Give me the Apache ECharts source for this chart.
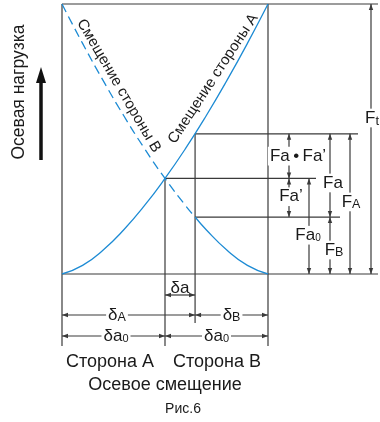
<!DOCTYPE html>
<html><head><meta charset="utf-8">
<script src="https://cdn.jsdelivr.net/npm/echarts@6/dist/echarts.min.js"></script>
<style>html,body{margin:0;padding:0;background:#fff}#c{width:380px;height:422px}</style>
</head><body><div id="c"></div>
<script>
// ---- Data (displacement % of stroke, axial load % of Ft) ----
const dispA = [0, 10, 20, 30, 40, 50, 60, 70, 80, 90, 100];
const loadA = [0, 3.2, 8.9, 16.4, 25.3, 35.4, 46.5, 58.6, 71.6, 85.4, 100];
const dispBDashed = [0, 10, 20, 30, 40, 50, 60, 64.6];
const loadBDashed = [100, 85.4, 71.6, 58.6, 46.5, 35.4, 25.3, 21.1];
const dispBSolid = [64.6, 70, 80, 90, 100];
const loadBSolid = [21.1, 16.4, 8.9, 3.2, 0];
const preloadDisp = 50;    // δa0 point (intersection)
const loadedDisp = 64.6;   // δA
const Fa0 = 35.4;
const FA = 51.9;
const FB = 21.1;
const Ft = 100;

const FONT = '"Liberation Sans", Arial, Helvetica, sans-serif';
const LINE = '#3a3a3a';
const TXT = '#1a1a1a';
const BLUE = '#1d8bd4';

const ctx = document.createElement('canvas').getContext('2d');
function tw(t, s) { ctx.font = s + 'px ' + FONT; return ctx.measureText(t).width; }

function seg(a, b, c, d, w) {
  return { type: 'line', shape: { x1: a, y1: b, x2: c, y2: d }, style: { stroke: LINE, lineWidth: w || 1.2 } };
}
function head(x, y, dir) {
  const L = 6, H = 2.2; let p;
  if (dir === 'up') p = [[x, y], [x - H, y + L], [x + H, y + L]];
  else if (dir === 'down') p = [[x, y], [x - H, y - L], [x + H, y - L]];
  else if (dir === 'left') p = [[x, y], [x + L, y - H], [x + L, y + H]];
  else p = [[x, y], [x - L, y - H], [x - L, y + H]];
  return { type: 'polygon', shape: { points: p }, style: { fill: LINE } };
}
function vdim(x, ya, yb) { return [seg(x, ya, x, yb), head(x, ya, 'up'), head(x, yb, 'down')]; }
function hdim(y, xa, xb) { return [seg(xa, y, xb, y), head(xa, y, 'left'), head(xb, y, 'right')]; }
function label(cx, cy, parts, bg) {
  let total = 0;
  parts.forEach(p => { p.w = tw(p.t, p.s); total += p.w; });
  const main = parts[0].s;
  const els = [];
  if (bg) els.push({ type: 'rect', shape: { x: cx - total / 2 - 2, y: cy - main * 0.55, width: total + 4, height: main * 1.1 }, style: { fill: '#fff' } });
  let x = cx - total / 2;
  parts.forEach(p => {
    const y = cy + 0.33 * (main - p.s) + (p.dy || 0);
    els.push({ type: 'text', x: x, y: y, style: { text: p.t, font: p.s + 'px ' + FONT, fill: TXT, align: 'left', verticalAlign: 'middle' } });
    x += p.w;
  });
  return els;
}
function rtext(cx, cy, t, s, rot) {
  return { type: 'text', x: cx, y: cy, rotation: rot, style: { text: t, font: s + 'px ' + FONT, fill: TXT, align: 'center', verticalAlign: 'middle' } };
}

function renderAnn(params, api) {
  const P = (x, y) => api.coord([x, y]);
  const [x0, yb] = P(0, 0);
  const [x1, yt] = P(100, Ft);
  const xm = P(preloadDisp, 0)[0];
  const xd = P(loadedDisp, 0)[0];
  const yFa0 = P(0, Fa0)[1], yFA = P(0, FA)[1], yFB = P(0, FB)[1];
  const c1 = x1 + 21, c2 = x1 + 41, c3 = x1 + 62, c4 = x1 + 82, c5 = x1 + 103;
  let el = [];
  // frame & reference lines
  el.push(seg(x0, yt, x1 + 110, yt), seg(x0, yb, x1 + 110, yb));
  el.push(seg(x0, yt, x0, yb + 72), seg(x1, yt, x1, yb + 72));
  el.push(seg(xd, yFA, x1 + 90, yFA), seg(xm, yFa0, x1 + 48, yFa0), seg(xd, yFB, x1 + 72, yFB));
  el.push(seg(xm, yFa0, xm, yb + 72), seg(xd, yFA, xd, yb + 49));
  // right dimensions
  el = el.concat(vdim(c1, yFA, yFa0), vdim(c1, yFa0, yFB), vdim(c2, yFa0, yb),
    vdim(c3, yFA, yFB), vdim(c3, yFB, yb), vdim(c4, yFA, yb), vdim(c5, yt, yb));
  el = el.concat(
    label(c1 + 9, (yFA + yFa0) / 2, [{ t: 'Fa\u2009•\u2009Fa’', s: 17 }], true),
    label(c1 + 2, (yFa0 + yFB) / 2 - 1, [{ t: 'Fa’', s: 17 }], true),
    label(c2 - 1, (yFa0 + yb) / 2 + 9, [{ t: 'Fa', s: 17 }, { t: '0', s: 10, dy: 1 }], true),
    label(c3 + 3, (yFA + yFB) / 2 + 7.5, [{ t: 'Fa', s: 17 }], true),
    label(c3 + 4, (yFB + yb) / 2 + 4.5, [{ t: 'F', s: 17 }, { t: 'B', s: 12.5, dy: 1 }], true),
    label(c4 + 1, (yFA + yb) / 2 - 2, [{ t: 'F', s: 17 }, { t: 'A', s: 12.5, dy: 1 }], true),
    label(c5 + 1, (yt + yb) / 2 - 21, [{ t: 'F', s: 17 }, { t: 't', s: 13, dy: 2 }], true)
  );
  // bottom dimensions
  const r1 = yb + 21, r2 = yb + 41, r3 = yb + 62;
  el = el.concat(hdim(r1, xm, xd), hdim(r2, x0, xd), hdim(r2, xd, x1), hdim(r3, x0, xm), hdim(r3, xm, x1));
  el = el.concat(
    label((xm + xd) / 2, r1 - 7, [{ t: 'δa', s: 17 }], false),
    label(x0 + 55, r2, [{ t: 'δ', s: 17 }, { t: 'A', s: 12.5, dy: 1 }], true),
    label((xd + x1) / 2, r2, [{ t: 'δ', s: 17 }, { t: 'B', s: 12.5, dy: 1 }], true),
    label(x0 + 54, r3, [{ t: 'δa', s: 17 }, { t: '0', s: 11, dy: 1 }], true),
    label((xm + x1) / 2, r3, [{ t: 'δa', s: 17 }, { t: '0', s: 11, dy: 1 }], true)
  );
  // axis captions
  el = el.concat(
    label(xm - 55, yb + 88, [{ t: 'Сторона А', s: 18 }], false),
    label(xm + 52, yb + 88, [{ t: 'Сторона В', s: 18 }], false),
    label(xm, yb + 111, [{ t: 'Осевое смещение', s: 18 }], false),
    label(xm + 18, yb + 135, [{ t: 'Рис.6', s: 14 }], false)
  );
  el.push(rtext(x0 - 43, (yt + yb) / 2 - 47, 'Осевая нагрузка', 17.5, Math.PI / 2));
  el.push({ type: 'line', shape: { x1: x0 - 21, y1: yb - 114, x2: x0 - 21, y2: yt + 76 }, style: { stroke: '#111', lineWidth: 3.5 } });
  el.push({ type: 'polygon', shape: { points: [[x0 - 21, yt + 63], [x0 - 26, yt + 79], [x0 - 16, yt + 79]] }, style: { fill: '#111' } });
  // curve captions
  const bA = P(dispBDashed[3], loadBDashed[3]);
  el.push(rtext(bA[0] - 5, bA[1] - 30, 'Смещение стороны B', 15, -1.04));
  const aA = P(dispA[7], loadA[7]);
  el.push(rtext(aA[0] + 7, aA[1] - 37, 'Смещение стороны А', 15, 0.99));
  return { type: 'group', children: el };
}

const chart = echarts.init(document.getElementById('c'), null, { renderer: 'canvas' });
chart.setOption({
  animation: false,
  backgroundColor: '#fff',
  grid: { left: 62, top: 4, width: 206, height: 270, outerBoundsMode: 'none' },
  xAxis: { type: 'value', min: 0, max: 100, show: false },
  yAxis: { type: 'value', min: 0, max: 100, show: false },
  series: [
    { type: 'line', data: dispA.map((x, i) => [x, loadA[i]]), smooth: true, symbol: 'none',
      lineStyle: { color: BLUE, width: 1.3 }, z: 3 },
    { type: 'line', data: dispBDashed.map((x, i) => [x, loadBDashed[i]]), smooth: true, symbol: 'none',
      lineStyle: { color: BLUE, width: 1.3, type: [9, 5] }, z: 3 },
    { type: 'line', data: dispBSolid.map((x, i) => [x, loadBSolid[i]]), smooth: true, symbol: 'none',
      lineStyle: { color: BLUE, width: 1.3 }, z: 3 },
    { type: 'custom', coordinateSystem: 'cartesian2d', data: [[0, 0]], renderItem: renderAnn, silent: true, z: 2, clip: false }
  ]
});
</script>
</body></html>
